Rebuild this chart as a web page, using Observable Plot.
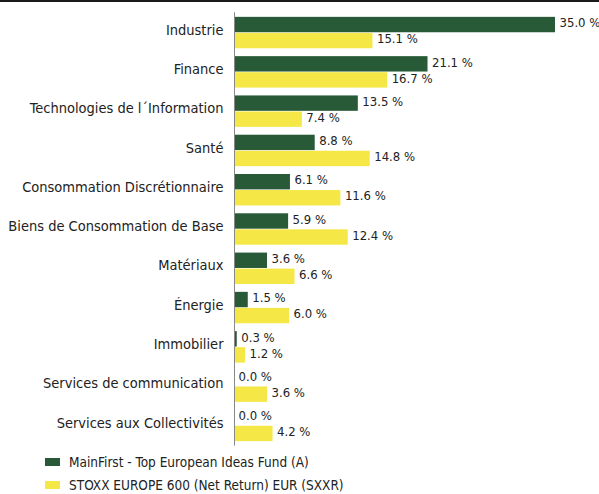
<!DOCTYPE html>
<html>
<head>
<meta charset="utf-8">
<script src="https://cdn.jsdelivr.net/npm/d3@7"></script>
<script src="https://cdn.jsdelivr.net/npm/@observablehq/plot@0.6"></script>
<style>
  html, body { margin: 0; padding: 0; background: #fff; }
  #wrap { position: relative; width: 599px; font-family: "DejaVu Sans Condensed", sans-serif; }
  #topline { position: absolute; left: 0; top: 0; width: 599px; height: 2px; background: #1a1a1a; }
  .legend { position: relative; height: 44px; }
  .li { position: absolute; left: 45px; display: flex; align-items: center; font-size: 13.5px; color: #222; }
  .sw { width: 15px; height: 8px; margin-right: 9px; }
</style>
</head>
<body>
<div id="wrap">
  <div id="chart"></div>
  <div class="legend" id="legend"></div>
  <div id="topline"></div>
</div>
<script>
const categories = ["Industrie", "Finance", "Technologies de l\u00B4Information", "Santé", "Consommation Discrétionnaire", "Biens de Consommation de Base", "Matériaux", "Énergie", "Immobilier", "Services de communication", "Services aux Collectivités"];
const seriesNames = ["MainFirst - Top European Ideas Fund (A)", "STOXX EUROPE 600 (Net Return) EUR (SXXR)"];
const fundValues = [35.0, 21.1, 13.5, 8.8, 6.1, 5.9, 3.6, 1.5, 0.3, 0.0, 0.0];
const indexValues = [15.1, 16.7, 7.4, 14.8, 11.6, 12.4, 6.6, 6.0, 1.2, 3.6, 4.2];
const colors = ["#285a37", "#f5e846"];

const data = [];
categories.forEach((c, i) => {
  data.push({category: c, series: seriesNames[0], value: fundValues[i]});
  data.push({category: c, series: seriesNames[1], value: indexValues[i]});
});

const chart = Plot.plot({
  width: 599,
  height: 452,
  marginLeft: 234,
  marginRight: 44,
  marginTop: 9,
  marginBottom: 3,
  style: {fontFamily: "'DejaVu Sans Condensed', sans-serif", background: "#fff"},
  x: {domain: [0, 35], axis: null},
  y: {domain: seriesNames, axis: null, paddingInner: 0.04, paddingOuter: 0, round: false},
  fy: {domain: categories, paddingInner: 0.2, paddingOuter: 0.2, round: false, label: null},
  color: {domain: seriesNames, range: colors},
  marks: [
    Plot.axisFy({anchor: "left", tickSize: 0, tickPadding: 11, fontSize: 14.5, dy: -3, label: null, color: "#222"}),
    Plot.barX(data, {fy: "category", y: "series", x: "value", fill: "series"}),
    Plot.text(data, {fy: "category", y: "series", x: "value", text: d => d.value.toFixed(1) + " %", textAnchor: "start", dx: 4, dy: -2, fontSize: 13, fill: "#222"}),
    Plot.ruleX([0], {stroke: "#888", strokeWidth: 1, insetTop: -4.5, insetBottom: -4.5})
  ]
});
document.getElementById("chart").appendChild(chart);

const legend = document.getElementById("legend");
seriesNames.forEach((s, i) => {
  const row = document.createElement("div");
  row.className = "li";
  row.style.top = (i * 23 + 2) + "px";
  const sw = document.createElement("span");
  sw.className = "sw";
  sw.style.background = colors[i];
  const t = document.createElement("span");
  t.textContent = s;
  row.appendChild(sw);
  row.appendChild(t);
  legend.appendChild(row);
});
</script>
</body>
</html>
